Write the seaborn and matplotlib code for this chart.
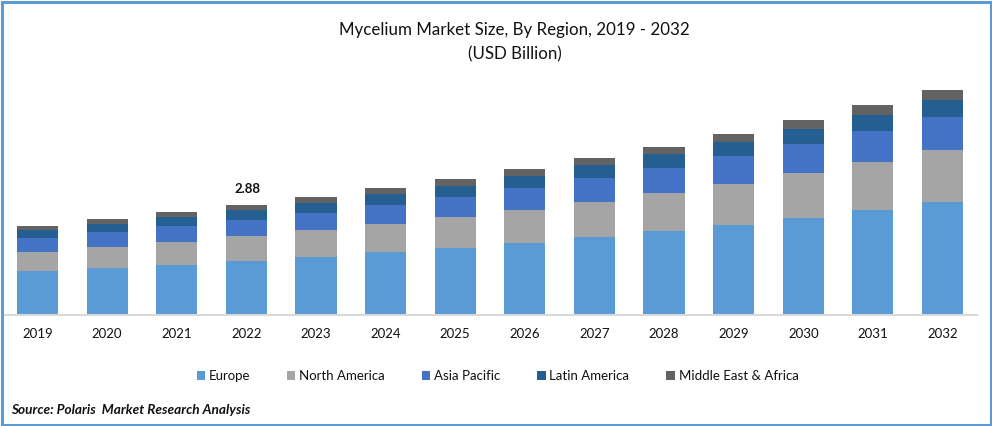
import matplotlib
matplotlib.use("Agg")
import matplotlib.pyplot as plt
from matplotlib.patches import Rectangle
import pandas as pd
import seaborn as sns

years = ["2019", "2020", "2021", "2022", "2023", "2024", "2025",
         "2026", "2027", "2028", "2029", "2030", "2031", "2032"]
regions = ["Europe", "North America", "Asia Pacific", "Latin America", "Middle East & Africa"]
colors = ["#5B9BD5", "#A5A5A5", "#4472C4", "#255E91", "#636363"]

# values, USD billion
europe = [1.15, 1.23, 1.31, 1.41, 1.52, 1.65, 1.75, 1.88, 2.04, 2.20, 2.36, 2.54, 2.75, 2.96]
north_america = [0.50, 0.55, 0.60, 0.65, 0.71, 0.73, 0.81, 0.86, 0.92, 0.99, 1.07, 1.18, 1.26, 1.36]
asia_pacific = [0.37, 0.39, 0.42, 0.42, 0.45, 0.50, 0.52, 0.58, 0.63, 0.65, 0.73, 0.76, 0.81, 0.86]
latin_america = [0.21, 0.21, 0.24, 0.26, 0.26, 0.29, 0.31, 0.31, 0.34, 0.37, 0.37, 0.39, 0.42, 0.45]
middle_east = [0.10, 0.13, 0.13, 0.13, 0.16, 0.16, 0.16, 0.18, 0.18, 0.18, 0.21, 0.24, 0.26, 0.26]

df = pd.DataFrame({"Year": years, "Europe": europe, "North America": north_america,
                   "Asia Pacific": asia_pacific, "Latin America": latin_america,
                   "Middle East & Africa": middle_east})

sns.set_theme(style="white")
plt.rcParams["font.family"] = ["Lato", "DejaVu Sans"]

W, H = 992, 426
fig = plt.figure(figsize=(W / 100, H / 100), dpi=100, facecolor="white")
ax = fig.add_axes([2.7 / W, 1 - 315 / H, 974.6 / W, 255 / H])

# stacked bars
bottom = [0.0] * len(years)
for region, color in zip(regions, colors):
    sns.barplot(data=df, x="Year", y=region, color=color, width=0.59, bottom=bottom,
                saturation=1, linewidth=0, label=region, legend=False, ax=ax)
    bottom = [b + v for b, v in zip(bottom, df[region])]

ax.set_xlim(-0.5, 13.5)
ax.set_ylim(0, 255 * 2.88 / 110)
ax.set_xlabel("")
ax.set_ylabel("")
ax.set_yticks([])
for side in ["top", "left", "right"]:
    ax.spines[side].set_visible(False)
ax.spines["bottom"].set_color("#D9D9D9")
ax.spines["bottom"].set_linewidth(1.5)
ax.tick_params(axis="x", length=0, pad=9, labelsize=9.5, labelcolor="#111111")

# label above 2022
ax.text(3.01, 2.88 + 0.25, "2.88", ha="center", va="bottom", fontsize=9.5,
        fontweight="bold", color="#111111")

fig.text(514.5 / W, 1 - 30 / H, "Mycelium Market Size, By Region, 2019 - 2032",
         ha="center", va="center", fontsize=12.2, color="#111111")
fig.text(514.5 / W, 1 - 54 / H, "(USD Billion)", ha="center", va="center",
         fontsize=12.2, color="#111111")

handles, labels = ax.get_legend_handles_labels()
fig.legend(handles, labels, ncols=5, loc="center", bbox_to_anchor=(497.5 / W, 1 - 376 / H),
           frameon=False, fontsize=9.5, handlelength=0.62, handleheight=0.62,
           handletextpad=0.3, columnspacing=2.8, labelcolor="#111111")

fig.text(11 / W, 1 - 410 / H, "Source: Polaris  Market Research Analysis", ha="left", va="center",
         fontsize=9.8, fontweight="bold", fontstyle="italic", color="#111111")

# blue frame round the whole picture
fig.add_artist(Rectangle((1.5 / W, 1.5 / H), (W - 3) / W, (H - 3) / H, transform=fig.transFigure,
                         fill=False, edgecolor="#5B9BD5", linewidth=2.2))

fig.savefig("out.png", dpi=100)
